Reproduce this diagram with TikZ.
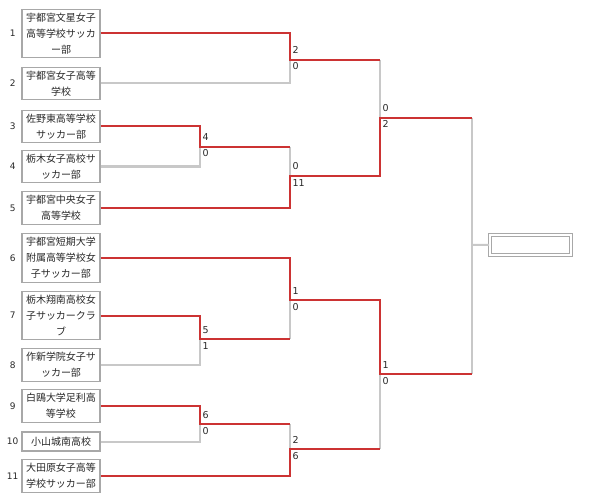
\documentclass[tikz,border=0pt]{standalone}
\usepackage{fontspec}
\newfontfamily\jpfont{Noto Sans CJK JP}
\newfontfamily\numfont{DejaVu Sans}
\usetikzlibrary{positioning}
\definecolor{winRed}{RGB}{204,51,51}
\definecolor{lineGray}{RGB}{200,200,200}
\definecolor{boxGray}{RGB}{168,168,168}
\definecolor{txtGray}{RGB}{40,40,40}

\tikzset{
  team/.style={draw=boxGray, line width=1.2pt, fill=white, minimum width=78pt,
    minimum height=19pt, inner xsep=2pt, inner ysep=3.5pt, align=center,
    font=\jpfont\fontsize{10}{16}\selectfont, text=txtGray},
  seed/.style={font=\numfont\fontsize{9}{10}\selectfont, text=txtGray, inner sep=0pt},
  score/.style={font=\numfont\fontsize{9.5}{10}\selectfont, text=txtGray,
    inner sep=0pt, anchor=base west, xshift=2.5pt},
  up/.style={yshift=6pt},
  down/.style={yshift=-10pt},
  won/.style={draw=winRed, line width=2pt},
  lost/.style={draw=lineGray, line width=2pt},
}

\begin{document}
\begin{tikzpicture}[x=1pt, y=-1pt]
    \useasboundingbox (0,0) rectangle (589,500);

    % teams
    \node[team] (t1) at (61,33.5) {宇都宮文星女子\\高等学校サッカ\\ー部};
    \node[team] (t2) at (61,83.5) {宇都宮女子高等\\学校};
    \node[team] (t3) at (61,126.5) {佐野東高等学校\\サッカー部};
    \node[team] (t4) at (61,166.5) {栃木女子高校サ\\ッカー部};
    \node[team] (t5) at (61,208) {宇都宮中央女子\\高等学校};
    \node[team] (t6) at (61,258) {宇都宮短期大学\\附属高等学校女\\子サッカー部};
    \node[team] (t7) at (61,315.5) {栃木翔南高校女\\子サッカークラ\\ブ};
    \node[team] (t8) at (61,365) {作新学院女子サ\\ッカー部};
    \node[team] (t9) at (61,406) {白鴎大学足利高\\等学校};
    \node[team] (t10) at (61,441.5) {小山城南高校};
    \node[team] (t11) at (61,476) {大田原女子高等\\学校サッカー部};

    \node[seed] (n1) at (12.7,33.5) {1};
    \node[seed] (n2) at (12.7,83.5) {2};
    \node[seed] (n3) at (12.7,126.5) {3};
    \node[seed] (n4) at (12.7,166.5) {4};
    \node[seed] (n5) at (12.7,208) {5};
    \node[seed] (n6) at (12.7,258) {6};
    \node[seed] (n7) at (12.7,315.5) {7};
    \node[seed] (n8) at (12.7,365) {8};
    \node[seed] (n9) at (12.7,406) {9};
    \node[seed] (n10) at (12.7,441.5) {10};
    \node[seed] (n11) at (12.7,476) {11};

    % match points
    \coordinate (m12) at (290,60);
    \coordinate (m34) at (200,147);
    \coordinate (m345) at (290,176);
    \coordinate (s1) at (380,118);
    \coordinate (m678) at (290,300);
    \coordinate (m78) at (200,339);
    \coordinate (m910) at (200,424);
    \coordinate (m91011) at (290,449);
    \coordinate (s2) at (380,374);
    \coordinate (fin) at (472,245);

    \node[draw=boxGray, double=white, double distance=2pt, line width=1pt,
      minimum width=81.5pt, minimum height=20.5pt, inner sep=0pt] (win) at (530.3,244.8) {};

    % losers first
    \draw[lost] (t2.east) -| (m12);
    \draw[lost] (t4.east) -| (m34);
    \draw[lost] (m34 -| m345) -- (m345);
    \draw[lost] (m12 -| s1) -- (s1);
    \draw[lost] (t8.east) -| (m78);
    \draw[lost] (m78 -| m678) -- (m678);
    \draw[lost] (t10.east) -| (m910);
    \draw[lost] (m910 -| m91011) -- (m91011);
    \draw[lost] (m91011 -| s2) -- (s2);
    \draw[lost] (s1 -| fin) -- (s2 -| fin);
    \draw[lost] (fin) -- (win.west);

    % winners
    \draw[won] (t1.east) -| (m12) -- (m12 -| s1);
    \draw[won] (t3.east) -| (m34) -- (m34 -| m345);
    \draw[won] (t5.east) -| (m345) -- (m345 -| s1) -- (s1) -- (s1 -| fin);
    \draw[won] (t6.east) -| (m678) -- (m678 -| s2) -- (s2) -- (s2 -| fin);
    \draw[won] (t7.east) -| (m78) -- (m78 -| m678);
    \draw[won] (t9.east) -| (m910) -- (m910 -| m91011);
    \draw[won] (t11.east) -| (m91011) -- (m91011 -| s2);

    % scores
    \node[score, up] (r12a) at (m12) {2};
    \node[score, down] (r12b) at (m12) {0};
    \node[score, up] (r34a) at (m34) {4};
    \node[score, down] (r34b) at (m34) {0};
    \node[score, up] (r345a) at (m345) {0};
    \node[score, down] (r345b) at (m345) {11};
    \node[score, up] (rs1a) at (s1) {0};
    \node[score, down] (rs1b) at (s1) {2};
    \node[score, up] (r678a) at (m678) {1};
    \node[score, down] (r678b) at (m678) {0};
    \node[score, up] (r78a) at (m78) {5};
    \node[score, down] (r78b) at (m78) {1};
    \node[score, up] (rs2a) at (s2) {1};
    \node[score, down] (rs2b) at (s2) {0};
    \node[score, up] (r910a) at (m910) {6};
    \node[score, down] (r910b) at (m910) {0};
    \node[score, up] (r91011a) at (m91011) {2};
    \node[score, down] (r91011b) at (m91011) {6};
\end{tikzpicture}
\end{document}
